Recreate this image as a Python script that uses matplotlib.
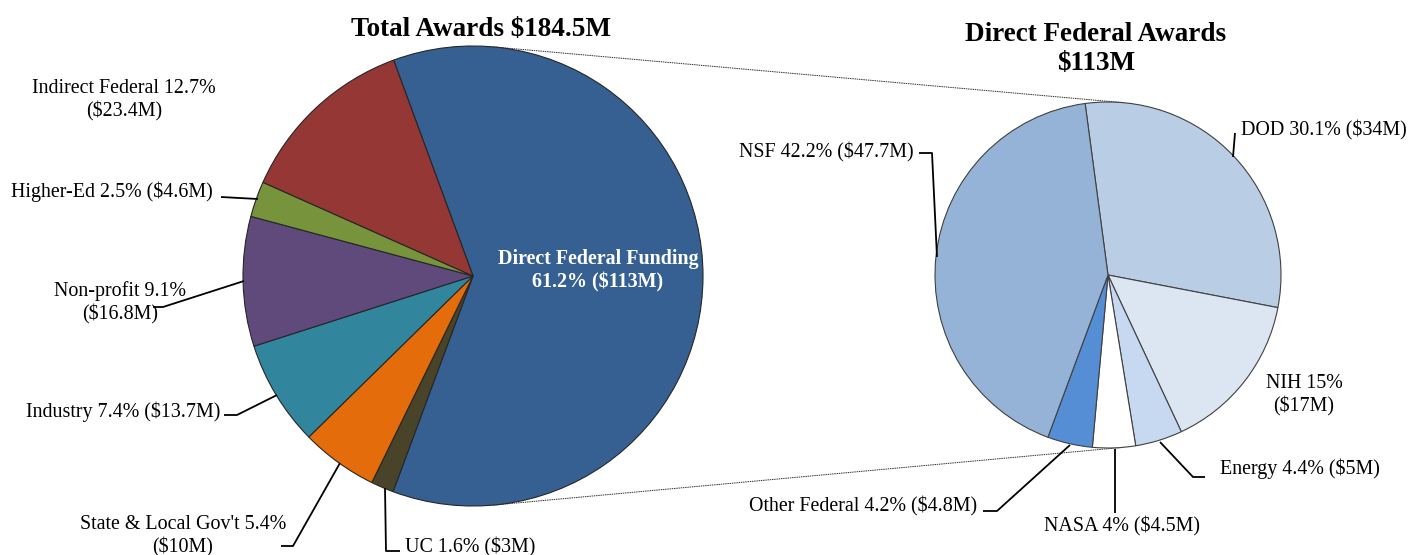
import matplotlib
matplotlib.use("Agg")
import matplotlib.pyplot as plt
import numpy as np

plt.rcParams['font.family'] = ['Liberation Serif', 'DejaVu Serif']

# ---- data ----
total_title = "Total Awards $184.5M"
left_names = ["Direct Federal Funding", "UC", "State & Local Gov't", "Industry",
              "Non-profit", "Higher-Ed", "Indirect Federal"]
left_pct = [61.2, 1.6, 5.4, 7.4, 9.1, 2.5, 12.7]
left_amt = ["$113M", "$3M", "$10M", "$13.7M", "$16.8M", "$4.6M", "$23.4M"]
left_colors = ["#366092", "#494429", "#E46C0A", "#31859C", "#604A7B", "#77933C", "#953735"]

right_title = "Direct Federal Awards\n$113M"
right_names = ["DOD", "NIH", "Energy", "NASA", "Other Federal", "NSF"]
right_pct = [30.1, 15, 4.4, 4, 4.2, 42.2]
right_amt = ["$34M", "$17M", "$5M", "$4.5M", "$4.8M", "$47.7M"]
right_colors = ["#B9CDE5", "#DCE6F2", "#C6D9F1", "#FFFFFF", "#558ED5", "#95B3D7"]

W, H = 1409, 555
fig = plt.figure(figsize=(W / 100, H / 100), dpi=100)
ax = fig.add_axes([0, 0, 1, 1])


def Y(y):
    return H - y


def fmt(v):
    return ("%g" % v)


LC = (473, Y(276)); LR = 230
RC = (1108, Y(275)); RR = 173

ax.pie(left_pct, colors=left_colors, startangle=110.2, counterclock=False,
       center=LC, radius=LR, wedgeprops=dict(edgecolor="#262626", linewidth=0.8))
ax.pie(right_pct, colors=right_colors, startangle=97.6, counterclock=False,
       center=RC, radius=RR, wedgeprops=dict(edgecolor="#404040", linewidth=0.8))

ax.set_xlim(0, W)
ax.set_ylim(0, H)
ax.set_aspect('equal')
ax.axis('off')

# tangent connector lines
d = RC[0] - LC[0]
nx = (LR - RR) / d
ny = np.sqrt(1 - nx ** 2)
for s in (1, -1):
    p1 = (LC[0] + LR * nx, LC[1] + s * LR * ny)
    p2 = (RC[0] + RR * nx, RC[1] + s * RR * ny)
    ax.plot([p1[0], p2[0]], [p1[1], p2[1]], color="#333333", lw=0.7,
            linestyle=(0, (1.5, 0.8)), zorder=0)

fs = 14.4
tkw = dict(fontsize=fs, color="black")
LS = 1.25
DY = 2  # small downward shift for text

# titles
ax.text(481, Y(29), total_title, ha="center", va="center", fontsize=19.5, fontweight="bold")
ax.text(1096, Y(49), right_title, ha="center", va="center", fontsize=19.5,
        fontweight="bold", linespacing=1.2)


def lab(i, names, pct, amt, mode=0):
    if mode == 1:
        return "%s %s%%\n(%s)" % (names[i], fmt(pct[i]), amt[i])
    if mode == 2:
        return "%s\n%s%% (%s)" % (names[i], fmt(pct[i]), amt[i])
    return "%s %s%% (%s)" % (names[i], fmt(pct[i]), amt[i])


def T(x, y, s, **kw):
    ax.text(x, Y(y + DY), s, va="center", linespacing=LS, **kw)


def leader(pts):
    xs = [p[0] for p in pts]
    ys = [Y(p[1]) for p in pts]
    ax.plot(xs, ys, color="black", lw=1.3, solid_capstyle="butt")


# left labels
T(598, 269, lab(0, left_names, left_pct, left_amt, 2), ha="center",
  fontsize=fs, fontweight="bold", color="white")
T(124, 98, lab(6, left_names, left_pct, left_amt, 1), ha="center", **tkw)
T(213, 190, lab(5, left_names, left_pct, left_amt), ha="right", **tkw)
leader([(221, 197), (258, 199)])
T(120, 301, lab(4, left_names, left_pct, left_amt, 1), ha="center", **tkw)
leader([(153, 307), (163, 307), (244, 281)])
T(220, 410, lab(3, left_names, left_pct, left_amt), ha="right", **tkw)
leader([(224, 415), (237, 415), (277, 395)])
T(183, 534, lab(2, left_names, left_pct, left_amt, 1), ha="center", **tkw)
leader([(281, 546), (293, 546), (340, 463)])
T(405, 545, lab(1, left_names, left_pct, left_amt), ha="left", **tkw)
leader([(385, 488), (386, 551), (400, 551)])

# right labels
T(914, 150, lab(5, right_names, right_pct, right_amt), ha="right", **tkw)
leader([(919, 153), (932, 153), (937, 257)])
T(1241, 128, lab(0, right_names, right_pct, right_amt), ha="left", **tkw)
leader([(1235, 133), (1233, 157)])
T(1304, 393, lab(1, right_names, right_pct, right_amt, 1), ha="center", **tkw)
T(1220, 467, lab(2, right_names, right_pct, right_amt), ha="left", **tkw)
leader([(1205, 477), (1193, 477), (1160, 442)])
T(1122, 524, lab(3, right_names, right_pct, right_amt), ha="center", **tkw)
leader([(1115, 449), (1115, 513)])
T(977, 504, lab(4, right_names, right_pct, right_amt), ha="right", **tkw)
leader([(983, 511), (997, 511), (1070, 445)])

fig.savefig("out.png", dpi=100)
